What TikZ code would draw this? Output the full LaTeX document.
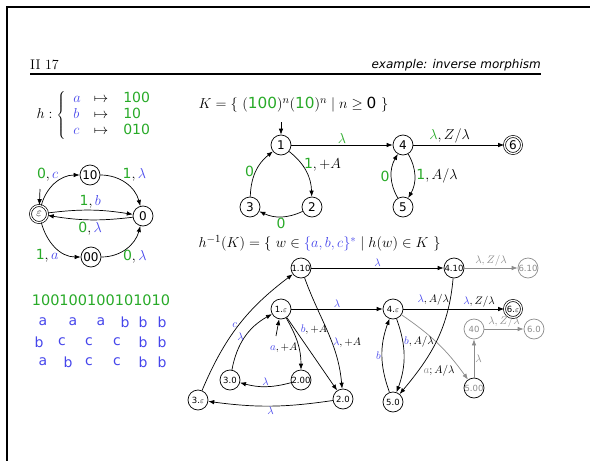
\documentclass[tikz,border=0pt]{standalone}
\usepackage{fontspec}
\setsansfont{DejaVu Sans}
\usetikzlibrary{arrows.meta}
\definecolor{ingrn}{RGB}{40,170,40}
\definecolor{outblu}{RGB}{70,70,235}
\newcommand\gi[1]{\textcolor{ingrn}{\textsf{#1}}}
\newcommand\gm[1]{\textcolor{ingrn}{#1}}
\newcommand\bo[1]{\textcolor{outblu}{#1}}

\begin{document}
\begin{tikzpicture}[x=1pt,y=1pt,
  st/.style={circle,draw,line width=0.7pt,minimum size=20pt,inner sep=0pt,
             font=\sffamily\fontsize{12}{12}\selectfont},
  acc/.style={st,double,double distance=1.3pt,minimum size=17pt},
  sst/.style={st,font=\sffamily\fontsize{8.5}{8.5}\selectfont},
  sacc/.style={sst,double,double distance=1.3pt,minimum size=17pt},
  ghost/.style={draw=black!45,text=black!45},
  arr/.style={-{Latex[length=6pt,width=4.5pt]},line width=0.7pt},
  lbl/.style={font=\fontsize{14}{14}\selectfont,inner sep=1.5pt},
  slbl/.style={font=\fontsize{10.5}{10.5}\selectfont,inner sep=1pt},
  sym/.style={font=\sffamily\fontsize{14}{14}\selectfont,text=outblu},
  defn/.style={anchor=west,font=\fontsize{15.3}{17}\selectfont}
]
  \useasboundingbox (0,0) rectangle (590,-461);
  \draw[line width=2pt] (7,-461) -- (7,-7) -- (590,-7);

  % slide header
  \node[anchor=base west,inner sep=0,font=\rmfamily\fontsize{14}{14}\selectfont] (slide) at (30,-69) {II 17};
  \node[anchor=base east,inner sep=0,font=\sffamily\itshape\fontsize{12}{12}\selectfont] (topic) at (541,-68) {example: inverse morphism};
  \draw[line width=1.5pt] (30,-74) -- (541,-74);

  % the morphism
  \node[anchor=west,font=\fontsize{14}{16}\selectfont] (hmap) at (33,-115)
    {$h:\left\{\begin{array}{@{\hspace{8pt}}l@{\hspace{13pt}}c@{\hspace{15pt}}l@{}}
      \bo{a}&\mapsto&\gi{100}\\ \bo{b}&\mapsto&\gi{10}\\ \bo{c}&\mapsto&\gi{010}\end{array}\right.$};

  % transducer for h^{-1}
  \node[acc] (e)   at (39,-214)  {$\varepsilon$};
  \node[st]  (q10) at (90,-175)  {10};
  \node[st]  (q0)  at (143,-216) {0};
  \node[st]  (q00) at (91,-257)  {00};
  \coordinate (e-in) at (40,-189);
  \draw[arr] (e-in) -- (e);
  \draw[arr] (e) to[out=75,in=180] node[lbl,above left,xshift=5pt]{$\gi{0},\bo{c}$} (q10);
  \draw[arr] (q10) to[out=0,in=105] node[lbl,above right,xshift=-5pt]{$\gi{1},\bo{\lambda}$} (q0);
  \draw[arr] (e) to[bend left=8] node[lbl,above]{$\gi{1},\bo{b}$} (q0);
  \draw[arr] (q0) to[bend left=8] node[lbl,below]{$\gi{0},\bo{\lambda}$} (e);
  \draw[arr] (e) to[out=-75,in=180] node[lbl,below left,xshift=5pt]{$\gi{1},\bo{a}$} (q00);
  \draw[arr] (q00) to[out=0,in=-105] node[lbl,below right,xshift=-5pt]{$\gi{0},\bo{\lambda}$} (q0);

  % three ways to parse a word
  \node[font=\sffamily\fontsize{14.5}{14.5}\selectfont,text=ingrn] (word) at (101,-300) {100100100101010};
  \foreach \x/\l [count=\i] in {43/a,73/a,101/a,125/b,143/b,162/b}
    \node[sym] (pa\i) at (\x,-322) {\l};
  \foreach \x/\l [count=\i] in {39/b,62/c,89/c,117/c,143/b,162/b}
    \node[sym] (pb\i) at (\x,-342) {\l};
  \foreach \x/\l [count=\i] in {43/a,68/b,89/c,117/c,143/b,162/b}
    \node[sym] (pc\i) at (\x,-362) {\l};

  % pushdown automaton for K
  \node[defn] (Kdef) at (195,-105)
    {$K=\{\ (\gi{100})^n(\gi{10})^n\mid n\geq\textsf{0}\ \}$};
  \node[st]  (k1) at (281,-145) {1};
  \node[st]  (k2) at (312,-207) {2};
  \node[st]  (k3) at (250,-207) {3};
  \node[st]  (k4) at (403,-145) {4};
  \node[st]  (k5) at (403,-207) {5};
  \node[acc] (k6) at (513,-145) {6};
  \coordinate (k-in) at (281,-122);
  \draw[arr] (k-in) -- (k1);
  \draw[arr] (k1) -- node[lbl,above]{$\gm{\lambda}$} (k4);
  \draw[arr] (k1) to[bend left=25] node[lbl,right,pos=0.35]{$\gi{1},+A$} (k2);
  \draw[arr] (k2) to[bend left=25] node[lbl,below]{\gi{0}} (k3);
  \draw[arr] (k3) to[bend left=25] node[lbl,left]{\gi{0}} (k1);
  \draw[arr] (k4) to[bend left=30] node[lbl,right]{$\gi{1},A/\lambda$} (k5);
  \draw[arr] (k5) to[bend left=30] node[lbl,left]{\gi{0}} (k4);
  \draw[arr] (k4) -- node[lbl,above,pos=0.4]{$\gm{\lambda},Z/\lambda$} (k6);

  % product automaton for the inverse image
  \node[defn] (Hdef) at (195,-243)
    {$h^{-1}(K)=\{\ w\in\bo{\{a,b,c\}^*}\mid h(w)\in K\ \}$};
  \node[sst]        (p110) at (301,-268) {1.10};
  \node[sst]        (p410) at (454,-268) {4.10};
  \node[sst,ghost]  (p610) at (528,-268) {6.10};
  \node[sst]        (p1e)  at (281,-309) {1.$\varepsilon$};
  \node[sst]        (p4e)  at (393,-309) {4.$\varepsilon$};
  \node[sacc]       (p6e)  at (513,-309) {6.$\varepsilon$};
  \node[sst,ghost]  (p40)  at (474,-329) {40};
  \node[sst,ghost]  (p60)  at (534,-329) {6.0};
  \node[sst,text=black!45] (p500) at (474,-388) {5.00};
  \node[sst]        (p30)  at (230,-380) {3.0};
  \node[sst]        (p200) at (301,-380) {2.00};
  \node[sst]        (p3e)  at (198,-400) {3.$\varepsilon$};
  \node[sst]        (p20)  at (343,-399) {2.0};
  \node[sst]        (p50)  at (393,-402) {5.0};
  \coordinate (p-in) at (276,-336);
  \draw[arr] (p-in) -- (p1e);

  \draw[arr] (p110) -- node[slbl,above]{$\bo{\lambda}$} (p410);
  \draw[arr,ghost] (p410) -- node[slbl,above,text=black!45]{$\lambda,Z/\lambda$} (p610);
  \draw[arr] (p1e) -- node[slbl,above]{$\bo{\lambda}$} (p4e);
  \draw[arr] (p4e) -- node[slbl,above,pos=0.75]{$\bo{\lambda},Z/\lambda$} (p6e);
  \draw[arr,ghost] (p40) -- node[slbl,above,text=black!45]{$\lambda,Z/\lambda$} (p60);
  \draw[arr,ghost] (p500) -- node[slbl,right,text=black!45]{$\lambda$} (p40);
  \draw[arr,ghost] (p4e) to[bend left=10]
    node[slbl,below left,pos=0.8,text=black]{$\textcolor{black!45}{a};A/\lambda$} (p500);
  \draw[arr] (p4e) to[bend left=20] node[slbl,right,pos=0.3]{$\bo{b},A/\lambda$} (p50);
  \draw[arr] (p50) to[bend left=20] node[slbl,left]{$\bo{b}$} (p4e);
  \draw[arr] (p410) to[out=-95,in=50] node[slbl,left,pos=0.15]{$\bo{\lambda},A/\lambda$} (p50);
  \draw[arr] (p110) to[out=-70,in=95] node[slbl,right,pos=0.6]{$\bo{\lambda},+A$} (p20);
  \draw[arr] (p1e) -- node[slbl,above right,pos=0.25]{$\bo{b},+A$} (p20);
  \draw[arr] (p1e) to[out=-60,in=90] node[slbl,left,pos=0.6]{$\bo{a},+A$} (p200);
  \draw[arr] (p3e) to[bend left=15] node[slbl,left]{$\bo{c}$} (p110);
  \draw[arr] (p30) to[bend left=25] node[slbl,left]{$\bo{\lambda}$} (p1e);
  \draw[arr] (p200) to[bend left=15] node[slbl,above]{$\bo{\lambda}$} (p30);
  \draw[arr] (p20) to[bend left=8] node[slbl,below]{$\bo{\lambda}$} (p3e);
\end{tikzpicture}
\end{document}
